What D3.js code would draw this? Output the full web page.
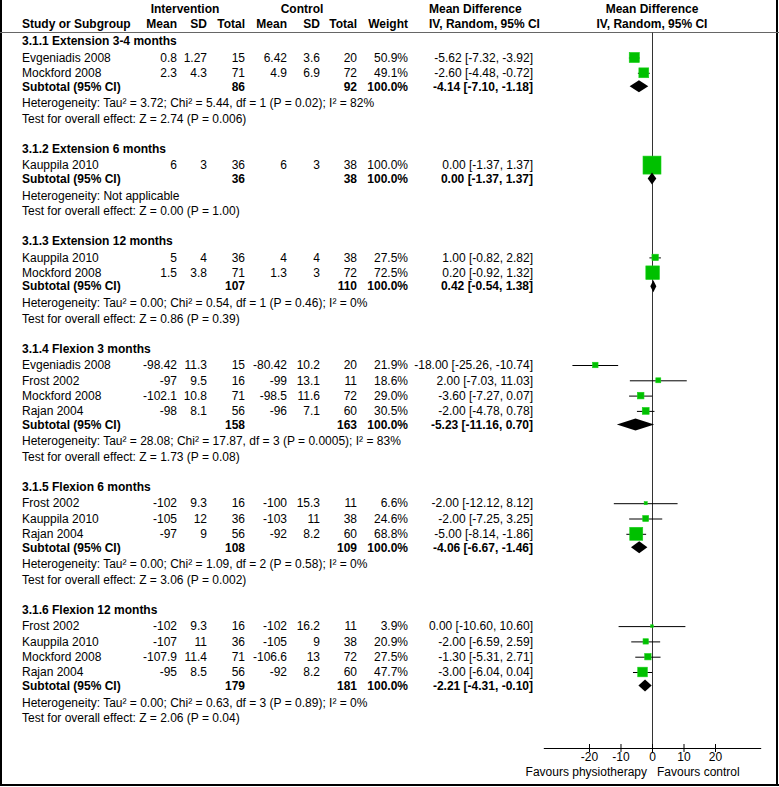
<!DOCTYPE html>
<html><head><meta charset="utf-8">
<script src="https://cdn.jsdelivr.net/npm/d3@7"></script>
<style>
body{margin:0;background:#fff;}
svg text{font-family:"Liberation Sans",Arial,sans-serif;font-size:12px;fill:#000;}
</style></head>
<body><svg id="c" width="779" height="787"></svg>
<script>
// ---- data ----
const groups = ["3.1.1 Extension 3-4 months","3.1.2 Extension 6 months","3.1.3 Extension 12 months","3.1.4 Flexion 3 months","3.1.5 Flexion 6 months","3.1.6 Flexion 12 months"];
const studyGroup = [0,0,1,2,2,3,3,3,3,4,4,4,5,5,5,5];
const studies = ["Evgeniadis 2008","Mockford 2008","Kauppila 2010","Kauppila 2010","Mockford 2008","Evgeniadis 2008","Frost 2002","Mockford 2008","Rajan 2004","Frost 2002","Kauppila 2010","Rajan 2004","Frost 2002","Kauppila 2010","Mockford 2008","Rajan 2004"];
const intMean = [0.8,2.3,6,5,1.5,-98.42,-97,-102.1,-98,-102,-105,-97,-102,-107,-107.9,-95];
const intSD = [1.27,4.3,3,4,3.8,11.3,9.5,10.8,8.1,9.3,12,9,9.3,11,11.4,8.5];
const intN = [15,71,36,36,71,15,16,71,56,16,36,56,16,36,71,56];
const ctlMean = [6.42,4.9,6,4,1.3,-80.42,-99,-98.5,-96,-100,-103,-92,-102,-105,-106.6,-92];
const ctlSD = [3.6,6.9,3,4,3,10.2,13.1,11.6,7.1,15.3,11,8.2,16.2,9,13,8.2];
const ctlN = [20,72,38,38,72,20,11,72,60,11,38,60,11,38,72,60];
const weight = [50.9,49.1,100.0,27.5,72.5,21.9,18.6,29.0,30.5,6.6,24.6,68.8,3.9,20.9,27.5,47.7];
const md = [-5.62,-2.60,0.00,1.00,0.20,-18.00,2.00,-3.60,-2.00,-2.00,-2.00,-5.00,0.00,-2.00,-1.30,-3.00];
const ciLo = [-7.32,-4.48,-1.37,-0.82,-0.92,-25.26,-7.03,-7.27,-4.78,-12.12,-7.25,-8.14,-10.60,-6.59,-5.31,-6.04];
const ciHi = [-3.92,-0.72,1.37,2.82,1.32,-10.74,11.03,0.07,0.78,8.12,3.25,-1.86,10.60,2.59,2.71,0.04];
const subIntN = [86,36,107,158,108,179];
const subCtlN = [92,38,110,163,109,181];
const subMd = [-4.14,0.00,0.42,-5.23,-4.06,-2.21];
const subLo = [-7.10,-1.37,-0.54,-11.16,-6.67,-4.31];
const subHi = [-1.18,1.37,1.38,0.70,-1.46,-0.10];
const heterogeneity = [
 "Heterogeneity: Tau² = 3.72; Chi² = 5.44, df = 1 (P = 0.02); I² = 82%",
 "Heterogeneity: Not applicable",
 "Heterogeneity: Tau² = 0.00; Chi² = 0.54, df = 1 (P = 0.46); I² = 0%",
 "Heterogeneity: Tau² = 28.08; Chi² = 17.87, df = 3 (P = 0.0005); I² = 83%",
 "Heterogeneity: Tau² = 0.00; Chi² = 1.09, df = 2 (P = 0.58); I² = 0%",
 "Heterogeneity: Tau² = 0.00; Chi² = 0.63, df = 3 (P = 0.89); I² = 0%"];
const overallEffect = [
 "Test for overall effect: Z = 2.74 (P = 0.006)",
 "Test for overall effect: Z = 0.00 (P = 1.00)",
 "Test for overall effect: Z = 0.86 (P = 0.39)",
 "Test for overall effect: Z = 1.73 (P = 0.08)",
 "Test for overall effect: Z = 3.06 (P = 0.002)",
 "Test for overall effect: Z = 2.06 (P = 0.04)"];
const tickValues = [-20,-10,0,10,20];
const axisExtent = [-34.5,34.5];
const favourLabels = ["Favours physiotherapy","Favours control"];

// ---- layout ----
const loc = d3.formatLocale({decimal:".",thousands:",",grouping:[3],currency:["$",""],minus:"-"});
const svg = d3.select("#c");
const x = d3.scaleLinear().domain(axisExtent).range([543.3,760.7]);
const boxSize = d3.scaleLinear().domain([0,100]).range([2,18]);
const f2 = loc.format(".2f");
const f1 = loc.format(".1f");
const ciText = (m,l,h)=>`${f2(m)} [${f2(l)}, ${f2(h)}]`;

const col = {study:22, iMean:177, iSD:207, iN:245, cMean:287, cSD:320, cN:357, w:408, ci:533};
const gap = {titleToStudy:16.5, study:15.3, toSub:13.5, toHet:16.8, toTest:15.8, toTitle:29.7};

// build rows
const rows = [];
let y = 41;
groups.forEach((g,gi)=>{
  rows.push({type:"title",y,gi});
  const idx = studyGroup.map((s,i)=>s===gi?i:-1).filter(i=>i>=0);
  y += gap.titleToStudy;
  idx.forEach((i,k)=>{ if(k>0) y+=gap.study; rows.push({type:"study",y,i}); });
  y += gap.toSub; rows.push({type:"sub",y,gi});
  y += gap.toHet; rows.push({type:"het",y,gi});
  y += gap.toTest; rows.push({type:"test",y,gi});
  y += gap.toTitle;
});
const axisY = 748;

// frame
svg.append("line").attr("x1",1).attr("x2",1).attr("y1",0).attr("y2",786).attr("stroke","#000").attr("stroke-width",2);
svg.append("line").attr("x1",777).attr("x2",777).attr("y1",0).attr("y2",786).attr("stroke","#000").attr("stroke-width",2);
svg.append("line").attr("x1",0).attr("x2",779).attr("y1",785).attr("y2",785).attr("stroke","#000").attr("stroke-width",2);

// header
const hdr = svg.append("g").style("font-weight","bold");
hdr.append("text").attr("x",185).attr("y",12.5).attr("text-anchor","middle").text("Intervention");
hdr.append("text").attr("x",302).attr("y",12.5).attr("text-anchor","middle").text("Control");
hdr.append("text").attr("x",429).attr("y",12.5).text("Mean Difference");
hdr.append("text").attr("x",x(0)).attr("y",12.5).attr("text-anchor","middle").text("Mean Difference");
const hy = 28.3;
hdr.append("text").attr("x",col.study).attr("y",hy).text("Study or Subgroup");
[["Mean",col.iMean],["SD",col.iSD],["Total",col.iN],["Mean",col.cMean],["SD",col.cSD],["Total",col.cN],["Weight",col.w]]
  .forEach(([t,cx])=>hdr.append("text").attr("x",cx).attr("y",hy).attr("text-anchor","end").text(t));
hdr.append("text").attr("x",429).attr("y",hy).text("IV, Random, 95% CI");
hdr.append("text").attr("x",x(0)).attr("y",hy).attr("text-anchor","middle").text("IV, Random, 95% CI");
svg.append("line").attr("x1",0).attr("x2",779).attr("y1",32.5).attr("y2",32.5).attr("stroke","#666").attr("stroke-width",1);

// zero line
svg.append("line").attr("x1",Math.round(x(0))+0.5).attr("x2",Math.round(x(0))+0.5).attr("y1",32.5).attr("y2",axisY)
  .attr("stroke","#333").attr("stroke-width",1);

const tb = 4.2; // text baseline offset
const t = svg.append("g");
rows.forEach(r=>{
  const by = r.y + tb;
  if(r.type==="title"){
    t.append("text").attr("x",col.study).attr("y",by).style("font-weight","bold").text(groups[r.gi]);
  } else if(r.type==="study"){
    const i=r.i;
    t.append("text").attr("x",col.study).attr("y",by).text(studies[i]);
    [[intMean[i],col.iMean],[intSD[i],col.iSD],[intN[i],col.iN],[ctlMean[i],col.cMean],[ctlSD[i],col.cSD],[ctlN[i],col.cN],[f1(weight[i])+"%",col.w],[ciText(md[i],ciLo[i],ciHi[i]),col.ci]]
      .forEach(([v,cx])=>t.append("text").attr("x",cx).attr("y",by).attr("text-anchor","end").text(String(v)));
    svg.append("line").attr("x1",x(ciLo[i])).attr("x2",x(ciHi[i])).attr("y1",r.y+0.5).attr("y2",r.y+0.5).attr("stroke","#000").attr("stroke-width",1);
    const s = boxSize(weight[i]);
    svg.append("rect").attr("x",x(md[i])-s/2).attr("y",r.y-s/2).attr("width",s).attr("height",s).attr("fill","#00c000").attr("stroke","#19d219").attr("stroke-width",0.6);
  } else if(r.type==="sub"){
    const g=r.gi;
    const gt = t.append("g").style("font-weight","bold");
    gt.append("text").attr("x",col.study).attr("y",by).text("Subtotal (95% CI)");
    [[subIntN[g],col.iN],[subCtlN[g],col.cN],["100.0%",col.w],[ciText(subMd[g],subLo[g],subHi[g]),col.ci]]
      .forEach(([v,cx])=>gt.append("text").attr("x",cx).attr("y",by).attr("text-anchor","end").text(String(v)));
    const h=6;
    svg.append("path").attr("d",`M${x(subLo[g])},${r.y}L${x(subMd[g])},${r.y-h}L${x(subHi[g])},${r.y}L${x(subMd[g])},${r.y+h}Z`).attr("fill","#000");
  } else if(r.type==="het"){
    t.append("text").attr("x",col.study).attr("y",by).text(heterogeneity[r.gi]);
  } else if(r.type==="test"){
    t.append("text").attr("x",col.study).attr("y",by).text(overallEffect[r.gi]);
  }
});

// axis
const ax = svg.append("g").attr("transform",`translate(0,${axisY})`)
  .call(d3.axisBottom(x).tickValues(tickValues).tickSizeInner(4).tickSizeOuter(0).tickPadding(0.5).tickFormat(loc.format("d")));
ax.select(".domain").attr("stroke","#000");
ax.selectAll(".tick line").attr("y1",-4).attr("y2",4).attr("stroke","#000");
ax.selectAll(".tick text").attr("font-size",null).attr("font-family",null).style("font-size","12px");
svg.append("text").attr("x",x(0)-5).attr("y",775.5).attr("text-anchor","end").text(favourLabels[0]);
svg.append("text").attr("x",x(0)+5).attr("y",775.5).text(favourLabels[1]);
</script></body></html>
